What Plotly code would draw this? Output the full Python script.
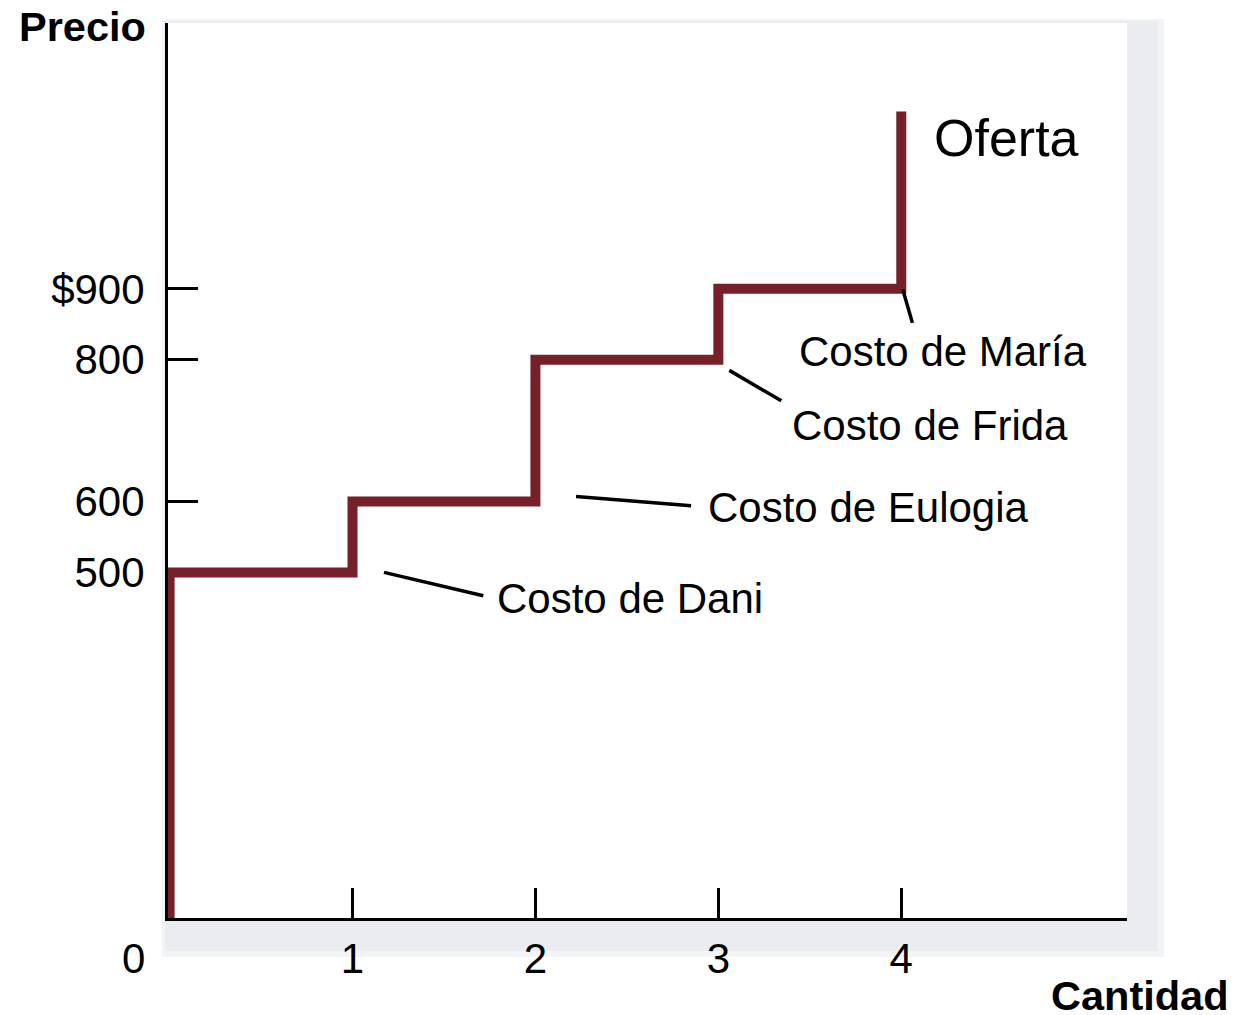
import plotly.graph_objects as go

# ---- data ----
sellers = ["Dani", "Eulogia", "Frida", "María"]
costs = [500, 600, 800, 900]
quantity_ticks = [1, 2, 3, 4]
quantity_labels = ["1", "2", "3", "4"]
price_ticks = [500, 600, 800, 900]
price_labels = ["500", "600", "800", "$900"]
supply_top = 1150

# build the step supply curve from the cost list
xs, ys = [0], [0]
for i, c in enumerate(costs):
    xs += [i, i + 1]
    ys += [c, c]
xs.append(len(costs))
ys.append(supply_top)

FONT = "Liberation Sans, Arial, sans-serif"
RED = "#76212A"

fig = go.Figure()
fig.add_trace(go.Scatter(x=xs, y=ys, mode="lines",
                         line=dict(color=RED, width=10),
                         hoverinfo="skip", showlegend=False))

# callout lines (layout positions) : (x0, y0, x1, y1)
callouts = {
    "Dani": (1.172, 500, 1.715, 467),
    "Eulogia": (2.222, 607, 2.851, 594),
    "Frida": (3.060, 785, 3.344, 742),
    "María": (4.008, 899, 4.061, 852),
}
label_pos = {  # text left x, center y (data coords)
    "Dani": (1.78, 463),
    "Eulogia": (2.93, 592),
    "Frida": (3.39, 707),
    "María": (3.43, 812),
}

# page offset (browser body margin) compensation
OFF = 8
W, H = 1237 - OFF, 1015 - OFF
L, T = 168 - OFF, 23 - OFF
pw, ph = 959, 895
R, B = W - L - pw, H - T - ph

def px2paper(px, py):
    return (px - OFF - L) / pw, (H - B - (py - OFF)) / ph

shapes = [
    # shadow panel
    dict(type="rect", xref="paper", yref="paper", x0=-0.0063, x1=1.0386, y0=-0.0436, y1=1.0045,
         fillcolor="#F3F4F7", line=dict(width=0), layer="below"),
    dict(type="rect", xref="paper", yref="paper", x0=-0.003, x1=1.032, y0=-0.037, y1=1.0025,
         fillcolor="#EBECF0", line=dict(width=0), layer="below"),
    dict(type="rect", xref="paper", yref="paper", x0=0, x1=1, y0=0, y1=1,
         fillcolor="white", line=dict(width=0), layer="below"),
]
for name in sellers:
    x0, y0, x1, y1 = callouts[name]
    shapes.append(dict(type="line", xref="x", yref="y", x0=x0, y0=y0, x1=x1, y1=y1,
                       line=dict(color="black", width=3.5)))

annotations = []
for name in sellers:
    lx, ly = label_pos[name]
    annotations.append(dict(x=lx, y=ly, xref="x", yref="y", text="Costo de " + name,
                            showarrow=False, xanchor="left", yanchor="middle",
                            font=dict(family=FONT, size=42, color="black")))
annotations.append(dict(x=4.17, y=1113, xref="x", yref="y", text="Oferta", showarrow=False,
                        xanchor="left", yanchor="middle",
                        font=dict(family=FONT, size=52, color="black")))

px, py = px2paper(17, 27)
annotations.append(dict(x=px, y=py, xref="paper", yref="paper", text="<b>Precio</b>",
                        showarrow=False, xanchor="left", yanchor="middle",
                        font=dict(family=FONT, size=41.5, color="black")))
px, py = px2paper(1231, 995)
annotations.append(dict(x=px, y=py, xref="paper", yref="paper", text="<b>Cantidad</b>",
                        showarrow=False, xanchor="right", yanchor="middle",
                        font=dict(family=FONT, size=41.5, color="black")))
px, py = px2paper(133, 958)
annotations.append(dict(x=px, y=py, xref="paper", yref="paper", text="0",
                        showarrow=False, xanchor="center", yanchor="middle",
                        font=dict(family=FONT, size=42, color="black")))

fig.update_layout(
    width=W, height=H,
    margin=dict(l=L, r=R, t=T, b=B, pad=0),
    paper_bgcolor="white",
    plot_bgcolor="rgba(0,0,0,0)",
    showlegend=False,
    shapes=shapes,
    annotations=annotations,
    font=dict(family=FONT, size=42, color="black"),
)
fig.update_xaxes(range=[-0.0087, 5.234], showgrid=False, zeroline=False,
                 showline=True, linecolor="black", linewidth=3,
                 ticks="inside", ticklen=30, tickwidth=3, tickcolor="black",
                 tickvals=quantity_ticks, ticktext=quantity_labels,
                 tickfont=dict(family=FONT, size=42, color="black"),
                 ticklabelstandoff=2, layer="below traces")
fig.update_yaxes(range=[12.5, 1275], showgrid=False, zeroline=False,
                 showline=True, linecolor="black", linewidth=3,
                 ticks="inside", ticklen=30, tickwidth=3, tickcolor="black",
                 tickvals=price_ticks, ticktext=price_labels,
                 tickfont=dict(family=FONT, size=42, color="black"),
                 ticklabelstandoff=12, layer="below traces")

fig.write_html("out.html")
